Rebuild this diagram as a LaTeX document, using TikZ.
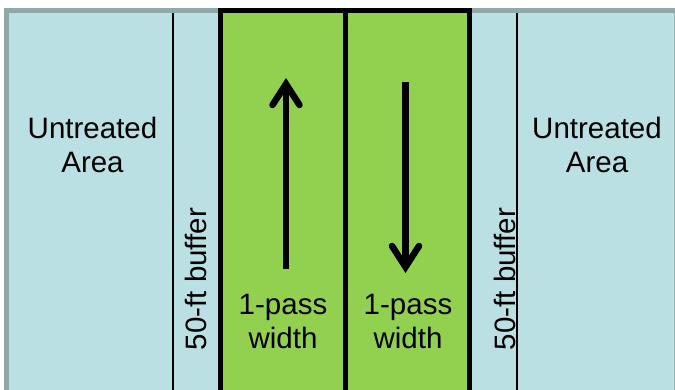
\documentclass[tikz,border=0pt]{standalone}
\usepackage{fontspec}
\setmainfont{Liberation Sans}
\usetikzlibrary{arrows.meta}
\definecolor{fieldblue}{RGB}{186,224,227}
\definecolor{edgegray}{RGB}{143,168,168}
\definecolor{passgreen}{RGB}{146,208,80}
\tikzset{
  lbl/.style={font=\fontsize{29.5}{34}\selectfont, align=center, inner sep=0pt, text=black},
  thinline/.style={draw=black, line width=1.2pt},
  passbox/.style={draw=black, line width=4.5pt, fill=passgreen, minimum width=125pt, minimum height=395pt, anchor=north west, inner sep=0pt, outer sep=0pt},
  passarrow/.style={line width=6.5pt, -{Straight Barb[length=21pt, width=27pt, line cap=round, line join=miter]}}
}
\begin{document}
\begin{tikzpicture}[x=1pt, y=-1pt]
\useasboundingbox (0,0) rectangle (675,389);
% field
\fill[fieldblue] (6,10) rectangle (680,400);
\fill[edgegray] (4,8) rectangle (680,13);
\fill[edgegray] (4,8) rectangle (8.5,400);
\draw[edgegray!80!fieldblue, line width=1.2pt] (674.4,13) -- (674.4,400);
% buffer lines
\coordinate (bl1) at (173,13);
\coordinate (bl2) at (173,400);
\coordinate (br1) at (517,13);
\coordinate (br2) at (517,400);
\draw[thinline] (bl1) -- (bl2);
\draw[thinline] (br1) -- (br2);
% passes
\node[passbox] (pass1) at (220.5,10.5) {};
\node[passbox, minimum width=124pt] (pass2) at (345.5,10.5) {};
% arrows
\coordinate (upS) at (286,269);
\coordinate (upE) at (286,78);
\coordinate (dnS) at (405.5,82);
\coordinate (dnE) at (405.5,273);
\draw[passarrow] (upS) -- (upE);
\draw[passarrow] (dnS) -- (dnE);
% labels
\node[lbl] (ul) at (92.5,145) {Untreated\\Area};
\node[lbl] (ur) at (597,145) {Untreated\\Area};
\node[lbl] (p1) at (283,321) {1-pass\\width};
\node[lbl] (p2) at (408,321) {1-pass\\width};
\node[lbl, rotate=90] (b1) at (196,279) {50-ft buffer};
\node[lbl, rotate=90] (b2) at (505,279) {50-ft buffer};
\end{tikzpicture}
\end{document}
